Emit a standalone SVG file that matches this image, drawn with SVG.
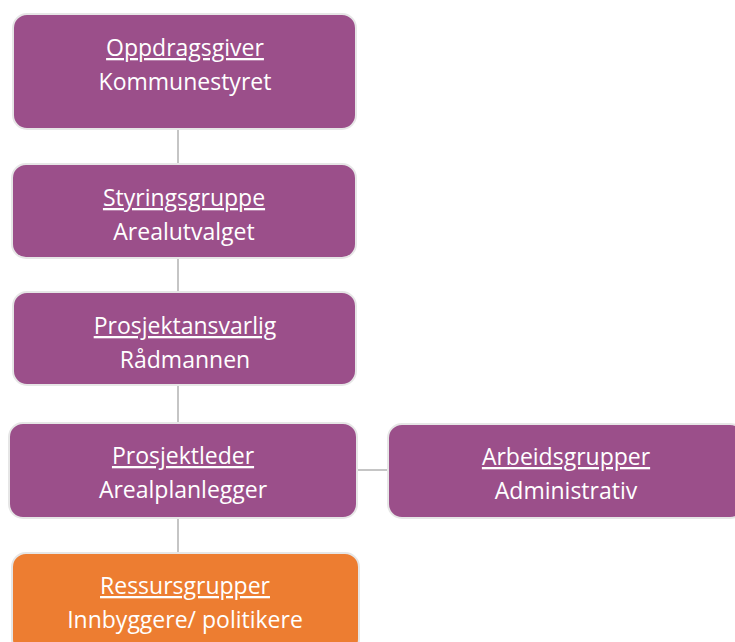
<svg xmlns="http://www.w3.org/2000/svg" width="735" height="642" viewBox="0 0 735 642">
<style>
.box{stroke:#E6E6E6;stroke-width:2}
.p{fill:#9B4F8A}
.o{fill:#ED7D31}
text{font-family:"Open Sans","Liberation Sans",sans-serif;font-size:23px;fill:#FFFFFF;text-anchor:middle}
.u{text-decoration:underline}
.c{stroke:#A6A6A6;stroke-width:1.3;fill:none}
</style>
<rect width="735" height="642" fill="#FFFFFF"/>
<g id="connectors">
<line class="c" x1="178" y1="129" x2="178" y2="164"/>
<line class="c" x1="178" y1="258" x2="178" y2="292"/>
<line class="c" x1="178" y1="385" x2="178" y2="423"/>
<line class="c" x1="178" y1="518" x2="178" y2="553"/>
<line class="c" x1="357" y1="470" x2="388" y2="470"/>
</g>
<g id="oppdragsgiver">
<rect class="box p" x="13" y="14" width="343" height="115" rx="14"/>
<text class="u" x="185" y="56">Oppdragsgiver</text>
<text x="185" y="90">Kommunestyret</text>
</g>
<g id="styringsgruppe">
<rect class="box p" x="12" y="164" width="344" height="94" rx="14"/>
<text class="u" x="184" y="206">Styringsgruppe</text>
<text x="184" y="240">Arealutvalget</text>
</g>
<g id="prosjektansvarlig">
<rect class="box p" x="13" y="292" width="343" height="93" rx="14"/>
<text class="u" x="185" y="334">Prosjektansvarlig</text>
<text x="185" y="368">Rådmannen</text>
</g>
<g id="prosjektleder">
<rect class="box p" x="9" y="423" width="348" height="95" rx="14"/>
<text class="u" x="183" y="464">Prosjektleder</text>
<text x="183" y="498">Arealplanlegger</text>
</g>
<g id="arbeidsgrupper">
<rect class="box p" x="388" y="424" width="356" height="94" rx="14"/>
<text class="u" x="566" y="465">Arbeidsgrupper</text>
<text x="566" y="499">Administrativ</text>
</g>
<g id="ressursgrupper">
<rect class="box o" x="12" y="553" width="347" height="100" rx="14"/>
<text class="u" x="185" y="594">Ressursgrupper</text>
<text x="185" y="628">Innbyggere/ politikere</text>
</g>
</svg>
